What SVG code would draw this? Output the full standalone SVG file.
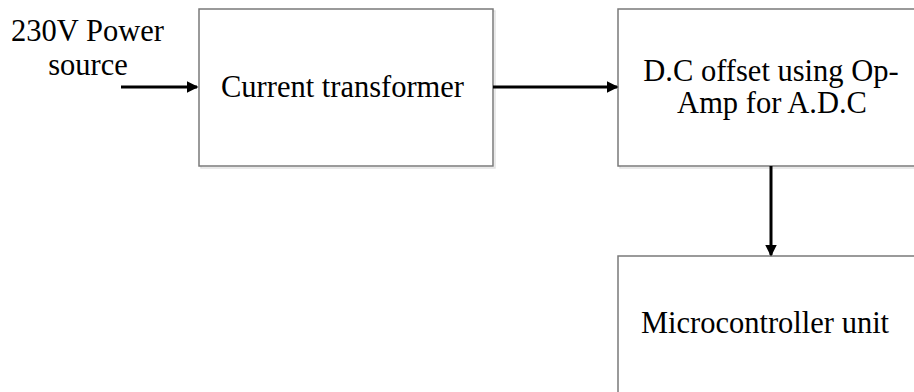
<svg xmlns="http://www.w3.org/2000/svg" width="914" height="392" viewBox="0 0 914 392">
<style>
.box{fill:#fff;stroke:#7a7a7a;stroke-width:1.5}
.sh{fill:none;stroke:#e2e2e2;stroke-width:1.5}
.t{font-family:"Liberation Serif","Times New Roman",serif;font-size:30.5px;fill:#000}
.c{stroke:#000;stroke-width:3;fill:none}
</style>
<defs>
<marker id="ah" markerWidth="4" markerHeight="4" refX="3.5" refY="2" orient="auto" markerUnits="strokeWidth">
<path d="M0,0 L4,2 L0,4 z" fill="#000"/>
</marker>
</defs>
<g id="source">
<text class="t" x="87.5" y="41" text-anchor="middle">230V Power</text>
<text class="t" x="88" y="75" text-anchor="middle">source</text>
</g>
<g id="ct">
<rect class="sh" x="201" y="11" width="294" height="157"/>
<rect class="box" x="199" y="9" width="294" height="157"/>
<text class="t" x="342.5" y="97" text-anchor="middle">Current transformer</text>
</g>
<g id="dc">
<rect class="sh" x="620" y="11" width="300" height="157"/>
<rect class="box" x="618" y="9" width="300" height="157"/>
<text class="t" x="771" y="81" text-anchor="middle">D.C offset using Op-</text>
<text class="t" x="772" y="113" text-anchor="middle">Amp for A.D.C</text>
</g>
<g id="mcu">
<rect class="sh" x="620" y="258" width="300" height="150"/>
<rect class="box" x="618" y="256" width="300" height="150"/>
<text class="t" x="765" y="333" text-anchor="middle">Microcontroller unit</text>
</g>
<g id="connectors">
<line class="c" x1="121" y1="87" x2="197" y2="87" marker-end="url(#ah)"/>
<line class="c" x1="493" y1="87" x2="617" y2="87" marker-end="url(#ah)"/>
<line class="c" x1="771" y1="166" x2="771" y2="255" marker-end="url(#ah)"/>
</g>
</svg>
